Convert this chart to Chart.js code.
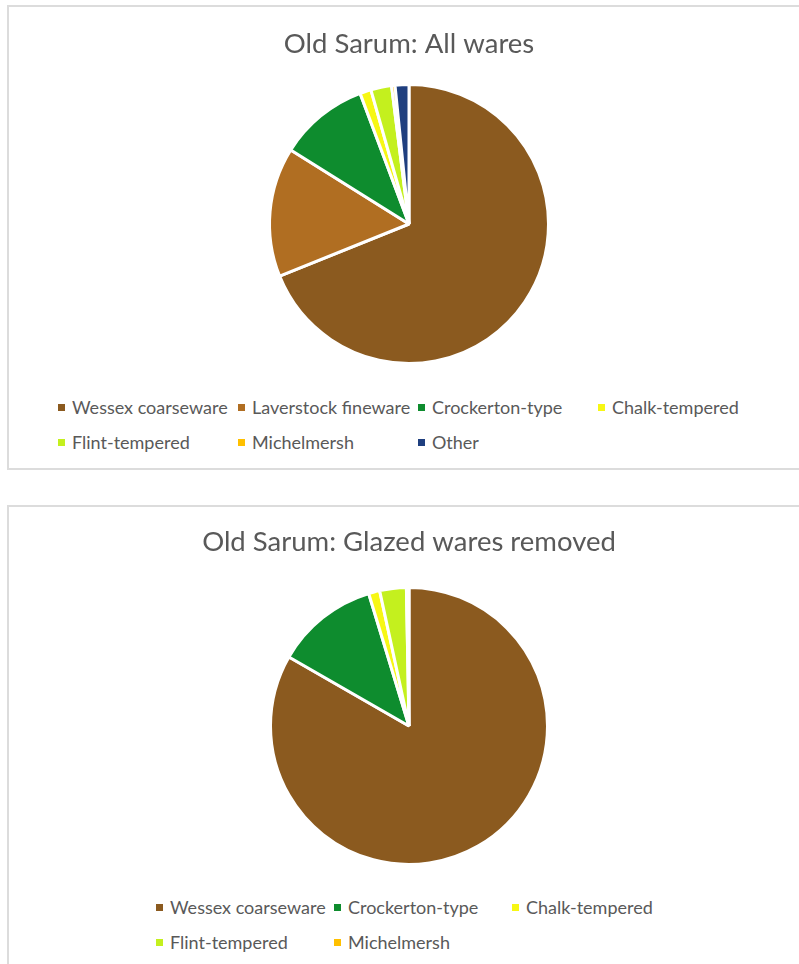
<!DOCTYPE html>
<html lang="en">
<head>
    <meta charset="UTF-8">
    <title>Old Sarum wares</title>
    <script src="https://cdn.jsdelivr.net/npm/chart.js"></script>
    <style>
        body {
            margin: 0;
            background: #fff;
            font-family: Lato, sans-serif;
            width: 799px;
            height: 964px;
            overflow: hidden;
            position: relative;
        }
        .chartBox {
            position: absolute;
            left: 7px;
            width: 800px;
            border: 2px solid #dcdcdc;
            background: #fff;
        }
        #boxAll { top: 5px; height: 461px; }
        #boxGlazed { top: 505px; height: 500px; }
        .chartBox canvas {
            position: absolute;
            left: 0;
            top: 0;
        }
        .legend {
            position: absolute;
            display: grid;
            row-gap: 13px;
            color: #595959;
            font-size: 18px;
            line-height: 22px;
        }
        #legendAll { top: 389px; left: 49px; grid-template-columns: repeat(4, 180px); }
        #legendGlazed { top: 389px; left: 147px; grid-template-columns: repeat(3, 178px); }
        .legend .item {
            display: flex;
            align-items: center;
            white-space: nowrap;
        }
        .legend .swatch {
            width: 7px;
            height: 7px;
            margin-right: 7px;
        }
    </style>
</head>
<body>
<div class="chartBox" id="boxAll">
    <canvas id="allWaresChart"></canvas>
    <div class="legend" id="legendAll"></div>
</div>
<div class="chartBox" id="boxGlazed">
    <canvas id="glazedChart"></canvas>
    <div class="legend" id="legendGlazed"></div>
</div>

<script>
    // percentages of sherds by ware type
    const allWaresLabels = ['Wessex coarseware', 'Laverstock fineware', 'Crockerton-type', 'Chalk-tempered', 'Flint-tempered', 'Michelmersh', 'Other'];
    const allWaresValues = [68.9, 15.0, 10.4, 1.3, 2.4, 0.4, 1.6];
    const allWaresColours = ['#8b5a1f', '#b06e22', '#0e8c2e', '#f7f714', '#c4f01e', '#ffc000', '#1f3f7f'];

    const glazedLabels = ['Wessex coarseware', 'Crockerton-type', 'Chalk-tempered', 'Flint-tempered', 'Michelmersh'];
    const glazedValues = [83.3, 12.0, 1.3, 3.1, 0.3];
    const glazedColours = ['#8b5a1f', '#0e8c2e', '#f7f714', '#c4f01e', '#ffc000'];

    function makePie(canvasId, legendId, title, labels, values, colours, pad) {
        const canvas = document.getElementById(canvasId);
        canvas.width = 800;
        canvas.height = pad.height;
        canvas.style.width = '800px';
        canvas.style.height = pad.height + 'px';

        const chart = new Chart(canvas, {
            type: 'pie',
            data: {
                labels: labels,
                datasets: [{
                    data: values,
                    backgroundColor: colours,
                    borderColor: '#ffffff',
                    borderWidth: 3
                }]
            },
            options: {
                responsive: false,
                animation: false,
                layout: { padding: 0 },
                plugins: {
                    legend: { display: false },
                    tooltip: { enabled: false },
                    title: {
                        display: true,
                        text: title,
                        color: '#595959',
                        font: { family: 'Lato', size: 27.5, weight: 'normal' },
                        padding: { top: pad.top, bottom: pad.bottom }
                    }
                }
            }
        });

        // html legend so the entries line up in columns
        const box = document.getElementById(legendId);
        labels.forEach((label, i) => {
            const item = document.createElement('div');
            item.className = 'item';
            const swatch = document.createElement('span');
            swatch.className = 'swatch';
            swatch.style.background = colours[i];
            const text = document.createElement('span');
            text.textContent = label;
            item.appendChild(swatch);
            item.appendChild(text);
            box.appendChild(item);
        });
        return chart;
    }

    makePie('allWaresChart', 'legendAll', 'Old Sarum: All wares',
        allWaresLabels, allWaresValues, allWaresColours, { top: 21, bottom: 22, height: 358 });
    makePie('glazedChart', 'legendGlazed', 'Old Sarum: Glazed wares removed',
        glazedLabels, glazedValues, glazedColours, { top: 19, bottom: 27, height: 359 });
</script>
</body>
</html>
